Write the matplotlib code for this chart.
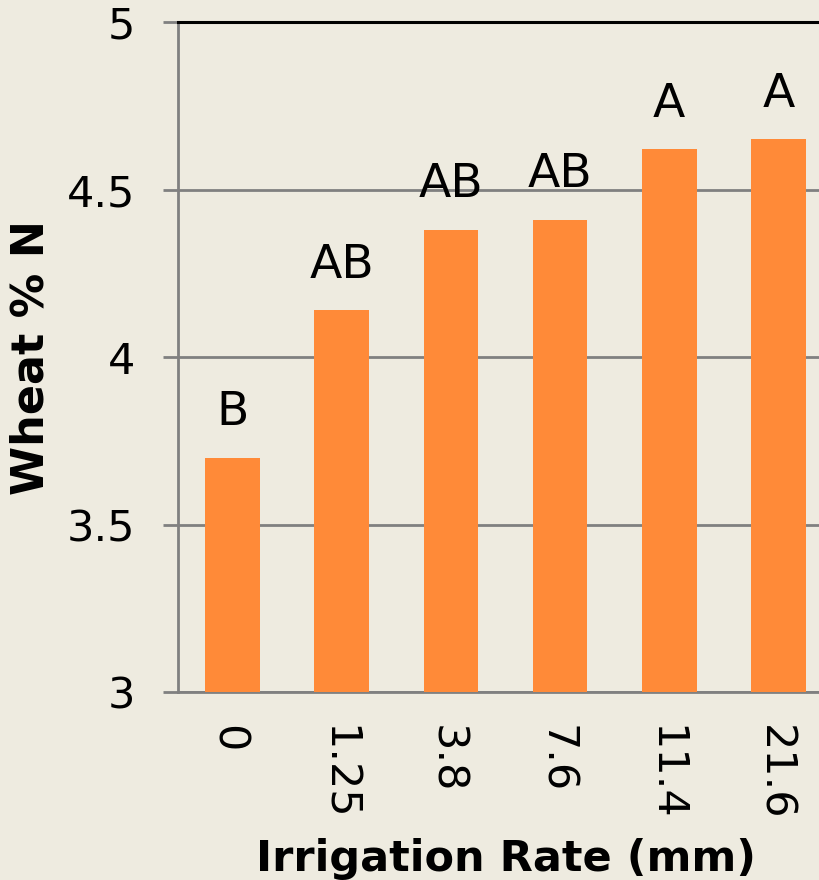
import numpy as np
import matplotlib.pyplot as plt

# ------------
# Chart data
# ------------
rates = ['0', '1.25', '3.8', '7.6', '11.4', '21.6']
wheat_n = [3.70, 4.14, 4.38, 4.41, 4.62, 4.65]
letters = ['B', 'AB', 'AB', 'AB', 'A', 'A']

bg = '#EEEBE0'
bar_color = '#FF8A38'
grid_color = '#808080'

fig = plt.figure(figsize=(8.19, 8.8), dpi=100, facecolor=bg)
ax = fig.add_axes([178 / 819, 1 - 692 / 880, 655 / 819, 670 / 880])
ax.set_facecolor(bg)

x = np.arange(len(rates))
bars = ax.bar(x, wheat_n, width=0.5, color=bar_color, zorder=3)

# significance letters above bars
for xi, val, lab in zip(x, wheat_n, letters):
    ax.annotate(lab, (xi, val), xytext=(0, 16), textcoords='offset points',
                ha='center', va='bottom', fontsize=34, color='black')

ax.set_xlim(-0.5, len(rates) - 0.5)
ax.set_ylim(3, 5)
ax.set_yticks([3, 3.5, 4, 4.5, 5])
ax.set_yticklabels(['3', '3.5', '4', '4.5', '5'])
ax.set_xticks(x)
# anchor rotation so the digits (not the line box) sit centred under each bar
ax.set_xticklabels(rates, rotation=-90, rotation_mode='anchor',
                   ha='left', va='center_baseline')

ax.tick_params(axis='y', direction='out', length=11, width=2, color=grid_color,
               labelsize=31, pad=20)
ax.tick_params(axis='x', length=0, labelsize=31, pad=24)

ax.grid(axis='y', color=grid_color, linewidth=2, zorder=0)
ax.set_axisbelow(True)

ax.spines['top'].set_color('black')
ax.spines['top'].set_linewidth(2.2)
ax.spines['left'].set_color(grid_color)
ax.spines['left'].set_linewidth(2)
ax.spines['bottom'].set_color(grid_color)
ax.spines['bottom'].set_linewidth(2)
ax.spines['right'].set_visible(False)

ax.set_xlabel('Irrigation Rate (mm)', fontsize=31, fontweight='bold', labelpad=12)
ax.set_ylabel('Wheat % N', fontsize=32, fontweight='bold', labelpad=10)

fig.savefig('out.png', dpi=100, facecolor=bg)
